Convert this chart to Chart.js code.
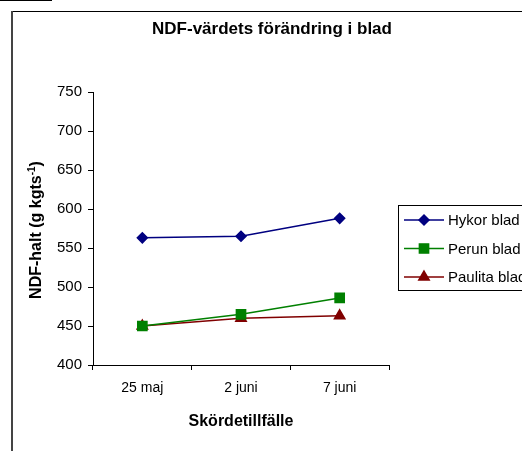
<!DOCTYPE html>
<html>
<head>
<meta charset="utf-8">
<script src="https://cdn.jsdelivr.net/npm/chart.js@4"></script>
<style>
  html, body { margin: 0; padding: 0; background: #fff; }
  #wrap { width: 522px; height: 451px; position: relative; }
</style>
</head>
<body>
<div id="wrap"><canvas id="myChart" width="522" height="451"></canvas></div>
<script>
const categories = ['25 maj', '2 juni', '7 juni'];
const hykorValues = [563, 565, 588];
const perunValues = [450, 465, 486];
const paulitaValues = [450, 460, 463];
const seriesNames = ['Hykor blad', 'Perun blad', 'Paulita blad'];
const yTicks = [400, 450, 500, 550, 600, 650, 700, 750];

const FONT = 'Arial, "Liberation Sans", sans-serif';

// frame, title, axis titles and legend drawn by hand to match the Excel look
const decorations = {
  id: 'decorations',
  beforeDraw(chart) {
    const ctx = chart.ctx;
    ctx.save();
    ctx.fillStyle = '#fff';
    ctx.fillRect(0, 0, chart.width, chart.height);
    ctx.fillStyle = '#000';
    ctx.fillRect(0, 0, 52, 1);
    ctx.fillRect(11, 11, chart.width - 11, 1);
    ctx.fillStyle = '#444';
    ctx.fillRect(11, 11, 2, chart.height - 11);
    ctx.restore();
  },
  afterDraw(chart) {
    const ctx = chart.ctx;
    const area = chart.chartArea;
    ctx.save();
    ctx.fillStyle = '#000';
    ctx.textBaseline = 'middle';

    // title
    ctx.font = 'bold 17px ' + FONT;
    ctx.textAlign = 'center';
    ctx.fillText('NDF-värdets förändring i blad', 272, 29);

    // x title
    ctx.font = 'bold 16px ' + FONT;
    ctx.fillText('Skördetillfälle', (area.left + area.right) / 2, 422);

    // y title with superscript
    ctx.translate(37, 230);
    ctx.rotate(-Math.PI / 2);
    const main = 'NDF-halt (g kgts';
    const sup = '-1';
    const close = ')';
    ctx.font = 'bold 16px ' + FONT;
    const wMain = ctx.measureText(main).width;
    const wClose = ctx.measureText(close).width;
    ctx.font = 'bold 10px ' + FONT;
    const wSup = ctx.measureText(sup).width;
    let x = -(wMain + wSup + wClose) / 2;
    ctx.textAlign = 'left';
    ctx.font = 'bold 16px ' + FONT;
    ctx.fillText(main, x, 0);
    x += wMain;
    ctx.font = 'bold 10px ' + FONT;
    ctx.fillText(sup, x, -5);
    x += wSup;
    ctx.font = 'bold 16px ' + FONT;
    ctx.fillText(close, x, 0);
    ctx.setTransform(1, 0, 0, 1, 0, 0);

    // legend box
    const lx = 398, ly = 205, lh = 85;
    ctx.strokeStyle = '#000';
    ctx.lineWidth = 1;
    ctx.strokeRect(lx + 0.5, ly + 0.5, chart.width, lh);
    ctx.font = '15px ' + FONT;
    ctx.textAlign = 'left';
    chart.data.datasets.forEach((ds, i) => {
      const y = 220 + i * 28.5;
      ctx.strokeStyle = ds.borderColor;
      ctx.lineWidth = 1.5;
      ctx.beginPath();
      ctx.moveTo(404, y);
      ctx.lineTo(444, y);
      ctx.stroke();
      ctx.fillStyle = ds.pointBackgroundColor;
      ctx.strokeStyle = ds.borderColor;
      Chart.helpers.drawPoint(ctx, {
        pointStyle: ds.pointStyle,
        radius: ds.pointRadius,
        borderWidth: 1,
        rotation: 0
      }, 424, y);
      ctx.fillStyle = '#000';
      ctx.fillText(ds.label, 448, y + 1);
    });
    ctx.restore();
  }
};

const ctx = document.getElementById('myChart').getContext('2d');
const myChart = new Chart(ctx, {
  type: 'line',
  data: {
    labels: categories,
    datasets: [
      {
        label: seriesNames[0],
        data: hykorValues,
        borderColor: '#000080',
        backgroundColor: '#000080',
        pointBackgroundColor: '#000080',
        pointStyle: 'rectRot',
        pointRadius: 5,
        borderWidth: 1.5
      },
      {
        label: seriesNames[1],
        data: perunValues,
        borderColor: '#008000',
        backgroundColor: '#008000',
        pointBackgroundColor: '#008000',
        pointStyle: 'rect',
        pointRadius: 6.5,
        borderWidth: 1.5
      },
      {
        label: seriesNames[2],
        data: paulitaValues,
        borderColor: '#800000',
        backgroundColor: '#800000',
        pointBackgroundColor: '#800000',
        pointStyle: 'triangle',
        pointRadius: 6,
        borderWidth: 1.5
      }
    ]
  },
  options: {
    responsive: false,
    animation: false,
    layout: { padding: { left: 0, top: 92, right: 133, bottom: 0 } },
    plugins: {
      legend: { display: false },
      title: { display: false },
      tooltip: { enabled: false }
    },
    scales: {
      x: {
        type: 'category',
        offset: true,
        grid: { offset: true, drawOnChartArea: false, color: '#000', tickLength: 5 },
        border: { color: '#000', width: 1 },
        ticks: { color: '#000', font: { family: FONT, size: 14 }, padding: 10, maxRotation: 0 },
        afterFit(scale) { scale.height = 451 - 365; }
      },
      y: {
        min: 400,
        max: 750,
        afterBuildTicks(scale) { scale.ticks = yTicks.map(v => ({ value: v })); },
        grid: { drawOnChartArea: false, color: '#000', tickLength: 5 },
        border: { color: '#000', width: 1 },
        ticks: { color: '#000', font: { family: FONT, size: 15 }, padding: 6 },
        afterFit(scale) { scale.width = 93; }
      }
    }
  },
  plugins: [decorations]
});
</script>
</body>
</html>
